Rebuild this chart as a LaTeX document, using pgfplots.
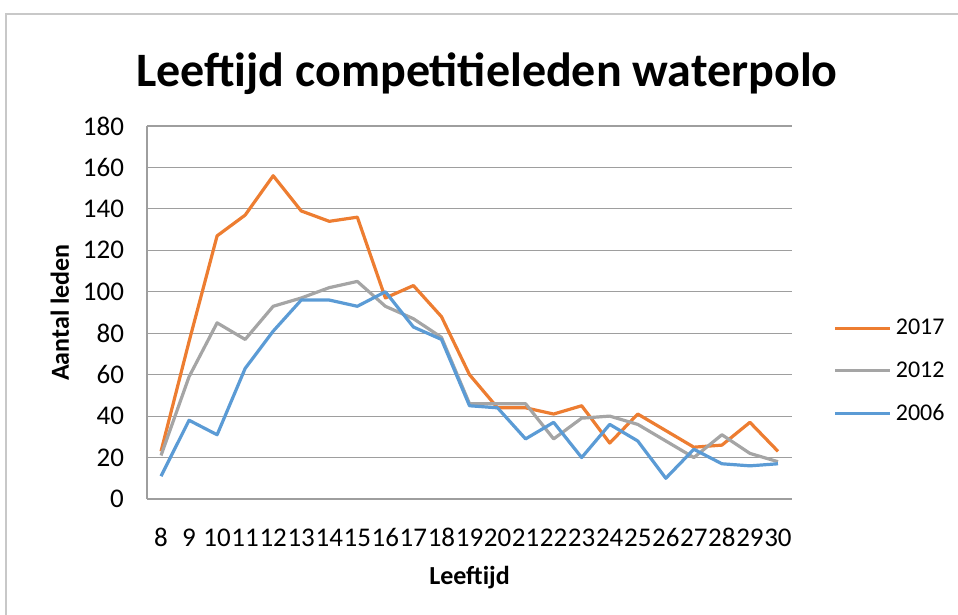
\documentclass[border=0pt]{standalone}
\usepackage{fontspec}
\setmainfont{Carlito}
\usepackage{pgfplots}
\pgfplotsset{compat=1.18}
\definecolor{c17}{HTML}{ED7D31}
\definecolor{c12}{HTML}{A5A5A5}
\definecolor{c06}{HTML}{5B9BD5}
\definecolor{gridgray}{HTML}{9E9E9E}
\definecolor{framegray}{HTML}{C8C8C8}

\begin{document}
\begin{tikzpicture}
\useasboundingbox (-73.5pt,-58pt) rectangle (405.5pt,249.5pt);
\draw[framegray, line width=0.8pt] (-70.5pt,-70pt) -- (-70.5pt,242.5pt) -- (420pt,242.5pt);
\begin{axis}[
    at={(0pt,0pt)}, anchor=south west,
    scale only axis, width=322.5pt, height=186.5pt,
    xmin=7.5, xmax=30.5, ymin=0, ymax=180,
    xtick={8,...,30}, ytick={0,20,...,180},
    major tick length=0pt,
    ymajorgrids,
    grid style={line width=0.6pt, gridgray},
    axis x line*=bottom, axis y line*=left,
    axis line style={line width=0.6pt, gridgray, -},
    /pgf/number format/assume math mode=true,
    tick label style={font=\fontsize{13.5}{16}\selectfont},
    xticklabel style={anchor=base, yshift=-23.5pt},
    yticklabel style={anchor=east, xshift=-8pt},
    title={Leeftijd competitieleden waterpolo},
    title style={at={(axis description cs:0.527,1.075)}, anchor=base,
        font=\fontsize{24}{28}\selectfont\bfseries},
    xlabel={Leeftijd},
    ylabel={Aantal leden},
    label style={font=\fontsize{13}{15}\selectfont\bfseries},
    xlabel style={at={(axis description cs:0.5,-0.228)}, anchor=base},
    ylabel style={at={(axis description cs:-0.135,0.5)}, anchor=center, rotate=0},
    legend style={at={(axis description cs:1.064,0.343)}, anchor=west,
        draw=none, fill=none, font=\fontsize{12}{14}\selectfont,
        row sep=8pt, inner sep=0pt},
    legend cell align=left,
    legend image code/.code={\draw[#1] (0pt,0pt) -- (27.5pt,0pt);},
    every axis plot/.append style={line width=1.6pt, line join=round, mark=none},
]
\addplot[c17] coordinates {
 (8,23) (9,76) (10,127) (11,137) (12,156) (13,139) (14,134) (15,136) (16,97)
 (17,103) (18,88) (19,60) (20,44) (21,44) (22,41) (23,45) (24,27) (25,41)
 (26,33) (27,25) (28,26) (29,37) (30,23)
};
\addlegendentry{2017}
\addplot[c12] coordinates {
 (8,21) (9,59) (10,85) (11,77) (12,93) (13,97) (14,102) (15,105) (16,93)
 (17,87) (18,78) (19,46) (20,46) (21,46) (22,29) (23,39) (24,40) (25,36)
 (26,28) (27,20) (28,31) (29,22) (30,18)
};
\addlegendentry{2012}
\addplot[c06] coordinates {
 (8,11) (9,38) (10,31) (11,63) (12,81) (13,96) (14,96) (15,93) (16,100)
 (17,83) (18,77) (19,45) (20,44) (21,29) (22,37) (23,20) (24,36) (25,28)
 (26,10) (27,24) (28,17) (29,16) (30,17)
};
\addlegendentry{2006}
\end{axis}
\end{tikzpicture}
\end{document}
